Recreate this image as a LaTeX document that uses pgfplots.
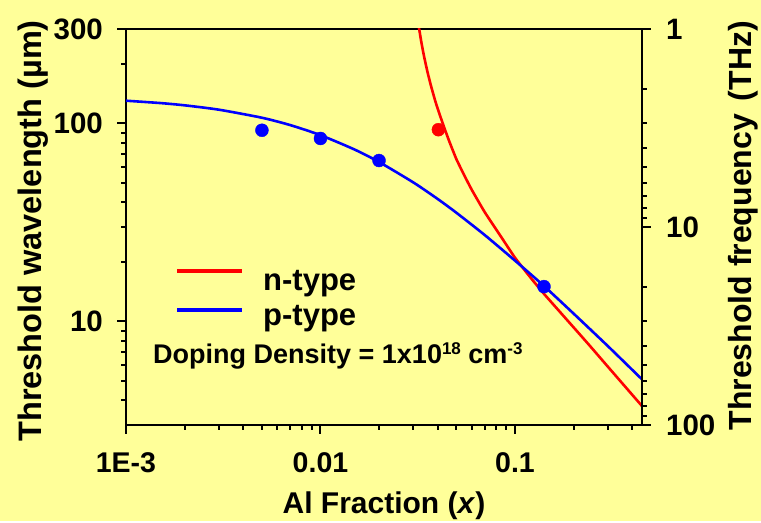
\documentclass[border=0pt]{standalone}
\usepackage{pgfplots}
\pgfplotsset{compat=1.18}
\usepackage{fontspec}
\setmainfont{Liberation Sans}
\definecolor{bgyellow}{HTML}{FFFF99}
\definecolor{nred}{HTML}{FF0000}
\definecolor{pblue}{HTML}{0000FF}
\newcommand{\fs}[1]{\fontsize{#1bp}{#1bp}\selectfont\bfseries}

\begin{document}
\begin{tikzpicture}
\fill[bgyellow] (0bp,0bp) rectangle (761bp,521bp);

% wavelength axis (left) with the data
\begin{axis}[
  at={(126bp,96bp)}, anchor=south west,
  width=516bp, height=396bp, scale only axis,
  xmode=log, ymode=log,
  xmin=0.001, xmax=0.45, ymin=3, ymax=300,
  axis line style={line width=2.4bp},
  every tick/.style={black, line width=2bp},
  major tick length=9bp, minor tick length=5bp,
  tick align=outside, tick pos=left,
  xtick={0.001,0.01,0.1}, xticklabels={1E-3,0.01,0.1},
  minor xtick={0.002,0.003,0.004,0.005,0.006,0.007,0.008,0.009,
               0.02,0.03,0.04,0.05,0.06,0.07,0.08,0.09,0.2,0.3,0.4},
  ytick={10,100,300}, yticklabels={10,100,300},
  minor ytick={4,5,6,7,8,9,20,30,40,50,60,70,80,90,200},
  /pgf/number format/assume math mode=true,
  xticklabel style={inner sep=0pt, anchor=north, yshift=-18bp, font=\fs{28.5}},
  yticklabel style={inner sep=0pt, anchor=east, xshift=-14bp, font=\fs{29.5}},
  xlabel={Al Fraction (\textit{x})},
  xlabel style={at={(axis description cs:0.5,0)}, anchor=base, yshift=-88bp, font=\fs{30}},
  ylabel={Threshold wavelength (\textmu m)},
  ylabel style={at={(axis description cs:0,0.49)}, anchor=base, yshift=84bp, font=\fs{32.5}},
]
\addplot[nred, line width=2.6bp, smooth, tension=0.3] coordinates {
  (0.0321,304) (0.033,258) (0.034,221) (0.0355,182) (0.037,155) (0.039,129)
  (0.041,111) (0.0435,94) (0.046,81) (0.05,66) (0.055,54.5) (0.06,46.2)
  (0.07,35.6) (0.085,26.7) (0.1,21.0) (0.12,16.7) (0.14,13.9) (0.17,11.2)
  (0.237,7.74) (0.3,5.92) (0.45,3.74)};
\addplot[pblue, line width=2.6bp, smooth, tension=0.4] coordinates {
  (0.001,130.3) (0.0015,126.8) (0.002,123.5) (0.003,117.4) (0.005,106.9)
  (0.007,98.1) (0.01,87.3) (0.015,73.8) (0.02,63.9) (0.03,50.4) (0.04,41.6)
  (0.05,35.4) (0.07,27.3) (0.1,20.3) (0.14,15.2) (0.2,10.97) (0.3,7.52) (0.45,5.10)};
% measured thresholds
\addplot[only marks, mark=*, mark size=6.5bp, nred] coordinates {(0.0404,93)};
\addplot[only marks, mark=*, mark size=6.5bp, pblue] coordinates {
  (0.005,92.4) (0.01,84) (0.02,65) (0.141,15)};
\end{axis}

% frequency axis (right), 1 THz = 300 um
\begin{axis}[
  at={(126bp,96bp)}, anchor=south west,
  width=516bp, height=396bp, scale only axis,
  xmode=log, ymode=log, y dir=reverse,
  xmin=0.001, xmax=0.45, ymin=1, ymax=100,
  axis x line=none, axis y line*=right,
  axis line style={-, line width=2.4bp},
  every tick/.style={black, line width=2bp},
  major tick length=9bp, minor tick length=5bp,
  tick align=outside,
  ytick={1,10,100}, yticklabels={1,10,100},
  minor ytick={2,3,4,5,6,7,8,9,20,30,40,50,60,70,80,90},
  /pgf/number format/assume math mode=true,
  yticklabel style={inner sep=0pt, anchor=west, xshift=15bp, font=\fs{29.5}},
  ylabel={Threshold frequency\hspace{4bp} (THz)},
  ylabel style={at={(axis description cs:1,0.503)}, anchor=base, yshift=-109bp, font=\fs{32}},
]
\addplot[draw=none, forget plot] coordinates {(0.01,10)};
\end{axis}

% key
\draw[nred, line width=4bp] (177bp,250bp) -- (242bp,250bp);
\draw[pblue, line width=4bp] (177bp,211bp) -- (242bp,211bp);
\node[anchor=base west, inner sep=0pt, font=\fs{31}] at (263bp,230.3bp) {n-type};
\node[anchor=base west, inner sep=0pt, font=\fs{31}] at (263bp,196bp) {p-type};
\node[anchor=base west, inner sep=0pt, font=\fs{27}] at (153bp,158bp)
  {Doping Density = 1x10\raisebox{9bp}{\fs{17}18} cm\raisebox{9bp}{\fs{17}-3}};
\end{tikzpicture}
\end{document}
